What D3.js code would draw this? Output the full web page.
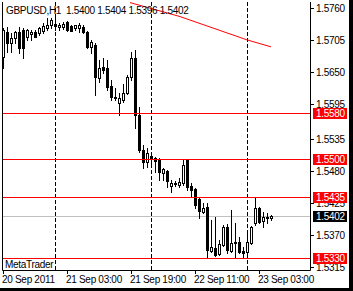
<!DOCTYPE html>
<html>
<head>
<meta charset="utf-8">
<title>GBPUSD,H1</title>
<script src="https://d3js.org/d3.v7.min.js"></script>
<style>
  body { margin: 0; background: #fff; }
  svg { display: block; font-family: "Liberation Sans", Arial, sans-serif; font-size: 10px; }
  .lbl { letter-spacing: -0.3px; }
</style>
</head>
<body>
<div id="chart"></div>
<script>
// hourly bars, 20 Sep 2011 11:00 .. 23 Sep 2011 06:00
const opens  = [1.5676,1.5719,1.5700,1.5708,1.5719,1.5722,1.5710,1.5715,1.5719,1.5717,
                1.5720,1.5726,1.5731,1.5732,1.5727,1.5727,1.5736,1.5729,1.5726,1.5726,
                1.5727,1.5719,1.5693,1.5696,1.5640,1.5659,1.5657,1.5626,1.5607,1.5597,
                1.5602,1.5614,1.5641,1.5674,1.5576,1.5516,1.5495,1.5506,1.5502,1.5499,
                1.5477,1.5480,1.5454,1.5459,1.5456,1.5459,1.5499,1.5454,1.5449,1.5432,
                1.5410,1.5418,1.5343,1.5348,1.5337,1.5353,1.5384,1.5343,1.5358,1.5358,
                1.5343,1.5341,1.5356,1.5391,1.5416,1.5394,1.5401,1.5400];
const highs  = [1.5726,1.5727,1.5717,1.5720,1.5727,1.5726,1.5724,1.5722,1.5722,1.5727,
                1.5734,1.5743,1.5743,1.5743,1.5734,1.5736,1.5738,1.5731,1.5731,1.5734,
                1.5731,1.5720,1.5705,1.5700,1.5671,1.5674,1.5671,1.5636,1.5623,1.5614,
                1.5629,1.5645,1.5684,1.5688,1.5590,1.5525,1.5520,1.5513,1.5504,1.5502,
                1.5485,1.5482,1.5465,1.5463,1.5468,1.5499,1.5501,1.5459,1.5451,1.5435,
                1.5425,1.5425,1.5396,1.5401,1.5361,1.5387,1.5389,1.5413,1.5391,1.5367,
                1.5349,1.5375,1.5385,1.5435,1.5418,1.5410,1.5408,1.5404];
const lows   = [1.5657,1.5684,1.5684,1.5700,1.5683,1.5674,1.5705,1.5705,1.5710,1.5714,
                1.5717,1.5722,1.5726,1.5722,1.5722,1.5724,1.5720,1.5720,1.5722,1.5719,
                1.5717,1.5691,1.5683,1.5611,1.5633,1.5648,1.5619,1.5602,1.5602,1.5576,
                1.5598,1.5612,1.5636,1.5554,1.5513,1.5485,1.5487,1.5493,1.5478,1.5465,
                1.5465,1.5452,1.5444,1.5454,1.5452,1.5456,1.5447,1.5435,1.5416,1.5399,
                1.5408,1.5330,1.5341,1.5334,1.5336,1.5351,1.5339,1.5341,1.5331,1.5339,
                1.5332,1.5339,1.5355,1.5387,1.5391,1.5384,1.5391,1.5396];
const closes = [1.5722,1.5700,1.5708,1.5719,1.5691,1.5691,1.5722,1.5719,1.5710,1.5726,
                1.5729,1.5731,1.5739,1.5729,1.5731,1.5732,1.5722,1.5720,1.5731,1.5731,
                1.5719,1.5693,1.5702,1.5641,1.5657,1.5653,1.5624,1.5607,1.5605,1.5605,
                1.5614,1.5641,1.5674,1.5576,1.5516,1.5495,1.5511,1.5502,1.5497,1.5478,
                1.5483,1.5463,1.5459,1.5458,1.5461,1.5490,1.5452,1.5447,1.5422,1.5411,
                1.5416,1.5344,1.5349,1.5336,1.5355,1.5384,1.5344,1.5356,1.5356,1.5341,
                1.5339,1.5358,1.5384,1.5416,1.5392,1.5401,1.5400,1.5402];

const timeTickBars = [0, 16, 32, 48, 64];
const timeTickLabels = ["20 Sep 2011", "21 Sep 03:00", "21 Sep 19:00", "22 Sep 11:00", "23 Sep 03:00"];
const daySeparators = [13, 37, 61];

const priceTicks = [1.5760, 1.5705, 1.5650, 1.5595, 1.5535, 1.5480, 1.5425, 1.5370, 1.5315];
const levelLines = [1.5580, 1.5500, 1.5435, 1.5330];
const bidPrice = 1.5402;

const trendBars = [31.75, 44.25, 61, 67];
const trendPrices = [1.5769, 1.5745, 1.5705, 1.5693];

const W = 353, H = 291;
const mLeft = 2, mRight = 310, mTop = 2, mBottom = 270;

const svg = d3.select("#chart").append("svg")
    .attr("width", W).attr("height", H);

const x = d3.scaleLinear().domain([0, 67]).range([3, 271]);
const y = d3.scaleLinear().domain([1.5310, 1.5770]).range([mBottom, mTop]);
const px = v => Math.round(v) + 0.5;

svg.append("defs").append("clipPath").attr("id", "plot")
  .append("rect").attr("x", mLeft).attr("y", mTop)
  .attr("width", mRight - mLeft).attr("height", mBottom - mTop);

const plot = svg.append("g").attr("clip-path", "url(#plot)");

// bid line
plot.append("line")
    .attr("x1", mLeft).attr("x2", mRight)
    .attr("y1", px(y(bidPrice))).attr("y2", px(y(bidPrice)))
    .attr("stroke", "#c0c0c0");

// day separators
plot.selectAll(".sep").data(daySeparators).join("line")
    .attr("x1", d => px(x(d))).attr("x2", d => px(x(d)))
    .attr("y1", mTop).attr("y2", mBottom)
    .attr("stroke", "#000").attr("stroke-dasharray", "4,2");

// candles
const bars = d3.range(opens.length);
plot.selectAll(".wick").data(bars).join("line")
    .attr("x1", i => px(x(i))).attr("x2", i => px(x(i)))
    .attr("y1", i => Math.round(y(highs[i]))).attr("y2", i => Math.round(y(lows[i])) + 1)
    .attr("stroke", "#000");

bars.forEach(i => {
  const cx = Math.round(x(i));
  const yo = Math.round(y(opens[i])), yc = Math.round(y(closes[i]));
  const t = Math.min(yo, yc), b = Math.max(yo, yc);
  if (closes[i] > opens[i] && b - t >= 2) {
    plot.append("rect")
        .attr("x", cx - 0.5).attr("y", t + 0.5)
        .attr("width", 2).attr("height", b - t)
        .attr("fill", "#fff").attr("stroke", "#000");
  } else {
    plot.append("rect")
        .attr("x", cx - 1).attr("y", t)
        .attr("width", 3).attr("height", Math.max(1, b - t + 1))
        .attr("fill", "#000");
  }
});

// horizontal levels
plot.selectAll(".lvl").data(levelLines).join("line")
    .attr("x1", mLeft).attr("x2", mRight)
    .attr("y1", d => px(y(d))).attr("y2", d => px(y(d)))
    .attr("stroke", "#ff0000");

// trend line
plot.append("path")
    .datum(d3.zip(trendBars, trendPrices))
    .attr("d", d3.line().x(d => x(d[0])).y(d => y(d[1])))
    .attr("fill", "none").attr("stroke", "#ff0000");

// frame
svg.append("path")
    .attr("d", `M${mLeft + 0.5},${mTop}V${mBottom + 0.5}H${mRight + 0.5}V${mTop}`)
    .attr("fill", "none").attr("stroke", "#000");

// price axis
const pa = svg.append("g");
pa.selectAll("line").data(priceTicks).join("line")
    .attr("x1", mRight + 1).attr("x2", mRight + 4)
    .attr("y1", d => px(y(d))).attr("y2", d => px(y(d)))
    .attr("stroke", "#000");
pa.selectAll("text").data(priceTicks).join("text")
    .attr("class", "lbl")
    .attr("x", 316).attr("y", d => Math.round(y(d)) + 4)
    .text(d => d.toFixed(4));

// level labels
const tags = levelLines.map(v => ({v, bg: "#ff0000"})).concat([{v: bidPrice, bg: "#000"}]);
const tg = svg.selectAll(".tag").data(tags).join("g");
tg.append("rect")
    .attr("x", 313).attr("y", d => Math.round(y(d.v)) - 5)
    .attr("width", 34).attr("height", 11)
    .attr("fill", d => d.bg);
tg.append("text")
    .attr("class", "lbl")
    .attr("x", 316).attr("y", d => Math.round(y(d.v)) + 4)
    .attr("fill", "#fff")
    .text(d => d.v.toFixed(4));

// time axis
const ta = svg.append("g");
ta.selectAll("line").data(timeTickBars).join("line")
    .attr("x1", d => px(x(d))).attr("x2", d => px(x(d)))
    .attr("y1", mBottom).attr("y2", mBottom + 4)
    .attr("stroke", "#000");
ta.selectAll("text").data(timeTickBars).join("text")
    .attr("class", "lbl")
    .attr("x", d => x(d) - 1).attr("y", 283)
    .text((d, i) => timeTickLabels[i]);

// title and watermark
svg.append("text").attr("x", 6).attr("y", 14)
    .attr("class", "lbl").style("white-space", "pre")
    .text("GBPUSD,H1  " + [opens[67], highs[67], lows[67], closes[67]].map(v => v.toFixed(4)).join(" "));
svg.append("text").attr("x", 5).attr("y", 268)
    .attr("class", "lbl").text("MetaTrader");

// window edge
svg.append("rect").attr("x", 349).attr("y", 0).attr("width", 4).attr("height", H).attr("fill", "#000");
svg.append("rect").attr("x", 0).attr("y", 288).attr("width", W).attr("height", 3).attr("fill", "#000");
</script>
</body>
</html>
